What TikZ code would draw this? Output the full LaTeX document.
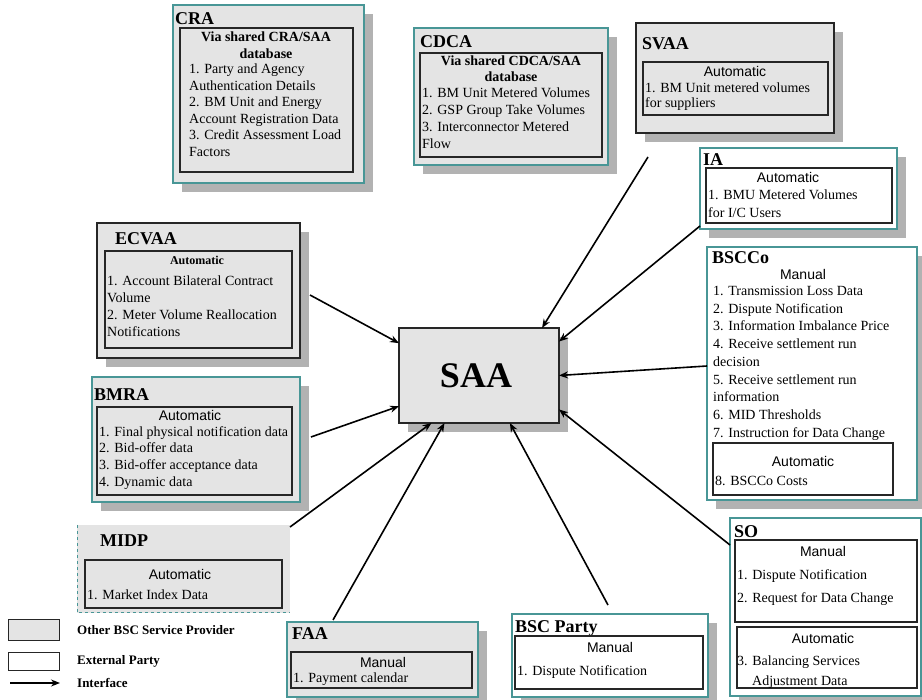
\documentclass[tikz,border=0pt]{standalone}
\usepackage{fontspec}
\setmainfont{Liberation Serif}
\newfontfamily\sansf{Liberation Sans}
\usetikzlibrary{shadows,arrows.meta}
\definecolor{boxgray}{RGB}{228,228,228}
\definecolor{shadowgray}{RGB}{178,178,178}
\definecolor{tealb}{RGB}{72,150,150}
\tikzset{
 bx/.style={rectangle, anchor=north west, inner sep=0pt, outer sep=0pt, line width=1.3pt},
 gbox/.style={bx, fill=boxgray},
 wbox/.style={bx, fill=white},
 tealline/.style={draw=tealb},
 darkline/.style={draw=black!85},
 shad/.style={drop shadow={shadow xshift=9pt, shadow yshift=-9pt, fill=shadowgray, draw=none, opacity=1}},
 inbox/.style={rectangle, anchor=north west, inner sep=0pt, outer sep=0pt, draw=black!85, line width=1.1pt},
 ttl/.style={anchor=base west, inner sep=0pt, font=\fontsize{18}{20}\selectfont\bfseries},
 hdr/.style={anchor=north, align=center, inner sep=0pt, font=\fontsize{14}{#1}\selectfont\bfseries, execute at begin node=\rule{0pt}{11pt}},
 hdr/.default=17,
 bodyt/.style={anchor=north west, align=left, inner sep=0pt, font=\fontsize{14}{#1}\selectfont, execute at begin node=\rule{0pt}{11pt}},
 bodyt/.default=17,
 line1/.style={anchor=base west, inner sep=0pt, font=\fontsize{14}{17}\selectfont},
 modet/.style={anchor=base, inner sep=0pt, font=\sansf\fontsize{14}{17}\selectfont},
 lgt/.style={anchor=base west, inner sep=0pt, font=\fontsize{13}{15}\selectfont\bfseries},
 iface/.style={line width=1.6pt, -{Stealth[length=9pt,width=7pt]}},
}
\begin{document}
\begin{tikzpicture}[x=1pt,y=-1pt]
\useasboundingbox (0,0) rectangle (922,700);
\fill[white] (0,0) rectangle (922,700);

% CRA
\node[gbox, tealline, shad, minimum width=191pt, minimum height=178pt] (cra) at (173,5) {};
\node[gbox, inbox, minimum width=173pt, minimum height=144pt] (crain) at (180,28) {};
\node[ttl] (crat) at (175,25) {CRA};
\node[hdr] (crah) at (266,32) {Via shared CRA/SAA\\database};
\node[bodyt=16.5] (crab) at (189,64) {1. Party and Agency\\Authentication Details\\2. BM Unit and Energy\\Account Registration Data\\3. Credit Assessment Load\\Factors};

% CDCA
\node[gbox, tealline, shad, minimum width=194pt, minimum height=137pt] (cdca) at (414,28) {};
\node[gbox, inbox, minimum width=182pt, minimum height=104pt] (cdcain) at (420,53) {};
\node[ttl] (cdcat) at (420,48) {CDCA};
\node[hdr=16] (cdcah) at (511,56) {Via shared CDCA/SAA\\database};
\node[bodyt=16.7] (cdcab) at (422,88) {1. BM Unit Metered Volumes\\2. GSP Group Take Volumes\\3. Interconnector Metered\\Flow};

% SVAA
\node[gbox, darkline, shad, minimum width=198pt, minimum height=110pt] (svaa) at (636,23) {};
\node[gbox, inbox, minimum width=185pt, minimum height=53pt] (svaain) at (643,62) {};
\node[ttl] (svaat) at (642,50) {SVAA};
\node[modet] (svaam) at (735,77) {Automatic};
\node[bodyt=14.5] (svaab) at (645,83) {1. BM Unit metered volumes\\for suppliers};

% IA
\node[wbox, tealline, shad, minimum width=197pt, minimum height=81pt] (ia) at (700,148) {};
\node[wbox, inbox, minimum width=186pt, minimum height=55pt] (iain) at (706,168) {};
\node[ttl] (iat) at (703,166) {IA};
\node[modet] (iam) at (788,183) {Automatic};
\node[bodyt=18] (iab) at (708,190) {1. BMU Metered Volumes\\for I/C Users};

% BSCCo
\node[wbox, tealline, shad, minimum width=210pt, minimum height=253pt] (bscco) at (707,247) {};
\node[ttl] (bsccot) at (712,264) {BSCCo};
\node[modet] (bsccom) at (803,280) {Manual};
\node[bodyt=17.75] (bsccob) at (713,286) {1. Transmission Loss Data\\2. Dispute Notification\\3. Information Imbalance Price\\4. Receive settlement run\\decision\\5. Receive settlement run\\information\\6. MID Thresholds\\7. Instruction for Data Change};
\node[wbox, inbox, minimum width=180pt, minimum height=52pt] (bsccoin) at (713,443) {};
\node[modet] (bsccoa) at (803,467) {Automatic};
\node[line1] (bsccoc) at (715,486) {8. BSCCo Costs};

% SO
\node[wbox, tealline, shad, minimum width=191pt, minimum height=178pt] (so) at (730,518) {};
\node[ttl] (sot) at (734,538) {SO};
\node[wbox, inbox, minimum width=182pt, minimum height=82pt] (soin1) at (735,540) {};
\node[modet] (som) at (823,557) {Manual};
\node[bodyt=23] (sob) at (737,569) {1. Dispute Notification\\2. Request for Data Change};
\node[wbox, inbox, minimum width=180pt, minimum height=61pt] (soin2) at (737,627) {};
\node[modet] (soa) at (823,643) {Automatic};
\node[line1] (sob3) at (737,665) {3. Balancing Services};
\node[line1] (sob4) at (752,685) {Adjustment Data};

% SAA
\node[gbox, darkline, shad, minimum width=160pt, minimum height=95pt] (saa) at (399,328) {};
\node[font=\fontsize{36}{40}\selectfont\bfseries, inner sep=0pt] (saat) at (476,376) {SAA};

% ECVAA
\node[gbox, darkline, shad, minimum width=203pt, minimum height=135pt] (ecvaa) at (97,223) {};
\node[gbox, inbox, minimum width=187pt, minimum height=97pt] (ecvaain) at (105,251) {};
\node[ttl] (ecvaat) at (115,245) {ECVAA};
\node[anchor=base, inner sep=0pt, font=\fontsize{12}{14}\selectfont\bfseries] (ecvaam) at (197,265) {Automatic};
\node[bodyt=16.7] (ecvaab) at (107,276) {1. Account Bilateral Contract\\Volume\\2. Meter Volume Reallocation\\Notifications};

% BMRA
\node[gbox, tealline, shad, minimum width=208pt, minimum height=125pt] (bmra) at (92,377) {};
\node[gbox, inbox, minimum width=195pt, minimum height=88pt] (bmrain) at (97,407) {};
\node[ttl] (bmrat) at (94,401) {BMRA};
\node[modet] (bmram) at (190,421) {Automatic};
\node[bodyt=16.7] (bmrab) at (99,426) {1. Final physical notification data\\2. Bid-offer data\\3. Bid-offer acceptance data\\4. Dynamic data};

% MIDP
\node[gbox, minimum width=213pt, minimum height=88pt] (midp) at (77,525) {};
\draw[tealb, dashed, line width=1pt] (midp.north west) -- (midp.south west) -- (midp.south east);
\node[ttl] (midpt) at (100,547) {MIDP};
\node[gbox, inbox, minimum width=197pt, minimum height=48pt] (midpin) at (85,560) {};
\node[modet] (midpm) at (180,580) {Automatic};
\node[line1] (midpb) at (87,600) {1. Market Index Data};

% FAA
\node[gbox, tealline, shad, minimum width=191pt, minimum height=75pt] (faa) at (287,622) {};
\node[ttl] (faat) at (292,640) {FAA};
\node[gbox, inbox, minimum width=181pt, minimum height=36pt] (faain) at (291,652) {};
\node[modet] (faam) at (383,667) {Manual};
\node[line1] (faab) at (293,682) {1. Payment calendar};

% BSC Party
\node[wbox, tealline, shad, minimum width=196pt, minimum height=83pt] (bscp) at (512,614) {};
\node[ttl] (bscpt) at (515,633) {BSC Party};
\node[wbox, inbox, minimum width=188pt, minimum height=53pt] (bscpin) at (515,636) {};
\node[modet] (bscpm) at (610,652) {Manual};
\node[line1] (bscpb) at (517,675) {1. Dispute Notification};

% Legend
\node[gbox, draw=black!85, line width=1pt, minimum width=51pt, minimum height=20pt] (lg1) at (8,620) {};
\node[wbox, draw=black!85, line width=1pt, minimum width=51pt, minimum height=18pt] (lg2) at (8,652) {};
\coordinate (lga) at (10,683);
\coordinate (lgb) at (60,683);
\draw[iface, line width=1.3pt] (lga) -- (lgb);
\node[lgt] (lg1t) at (77,634) {Other BSC Service Provider};
\node[lgt] (lg2t) at (77,664) {External Party};
\node[lgt] (lg3t) at (77,687) {Interface};

% Interfaces
\draw[iface] ([xshift=10pt,yshift=-4.5pt]ecvaa.east) -- (saa.158);
\draw[iface] ([xshift=11pt,yshift=2.5pt]bmra.east) -- (saa.201);
\draw[iface] ([yshift=-2pt]midp.north east) -- (saa.225);
\draw[iface] ([xshift=-49.5pt,yshift=2pt]faa.north) -- (saa.234);
\draw[iface] ([xshift=-2pt,yshift=9pt]bscp.north) -- (saa.303);
\draw[iface] ([yshift=-27pt]so.north west) -- (saa.337);
\draw[iface] ([yshift=7.5pt]bscco.west) -- (saa.east);
\draw[iface] ([yshift=3pt]ia.south west) -- (saa.23);
\draw[iface] ([xshift=12pt,yshift=-24pt]svaa.south west) -- (saa.37);
\end{tikzpicture}
\end{document}
